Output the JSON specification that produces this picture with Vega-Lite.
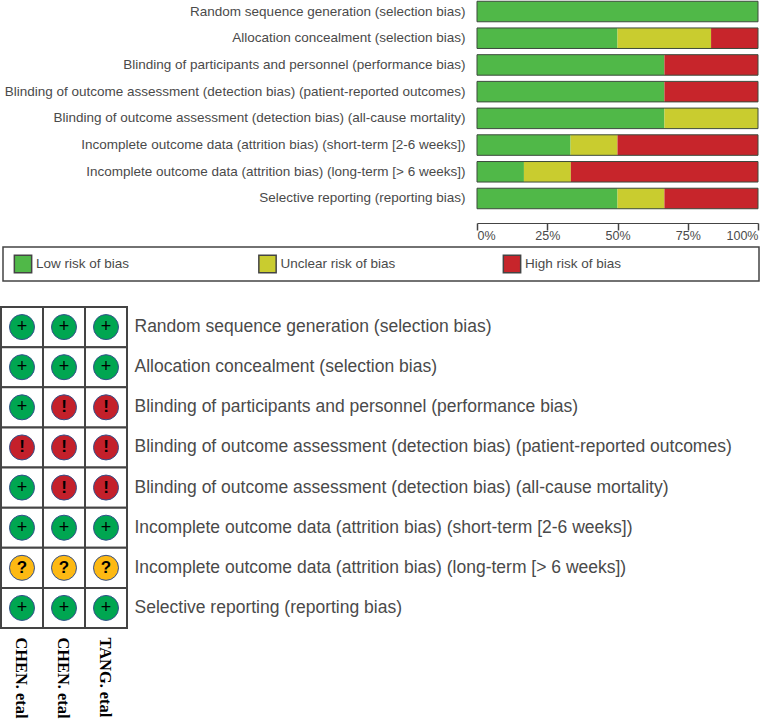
{
"$schema":"https://vega.github.io/schema/vega-lite/v6.json",
"padding":{"left":0,"top":0,"right":0,"bottom":0},
"autosize":{"type":"pad"},
"background":"white",
"spacing":4,
"resolve":{"scale":{"color":"independent"}},
"config":{"view":{"stroke":null}},
"datasets":{
"summary":[
{"domain":"Random sequence generation (selection bias)","risk":"Low risk of bias","rank":1,"pct":100},
{"domain":"Allocation concealment (selection bias)","risk":"Low risk of bias","rank":1,"pct":50},
{"domain":"Allocation concealment (selection bias)","risk":"Unclear risk of bias","rank":2,"pct":33.3},
{"domain":"Allocation concealment (selection bias)","risk":"High risk of bias","rank":3,"pct":16.7},
{"domain":"Blinding of participants and personnel (performance bias)","risk":"Low risk of bias","rank":1,"pct":66.7},
{"domain":"Blinding of participants and personnel (performance bias)","risk":"High risk of bias","rank":3,"pct":33.3},
{"domain":"Blinding of outcome assessment (detection bias) (patient-reported outcomes)","risk":"Low risk of bias","rank":1,"pct":66.7},
{"domain":"Blinding of outcome assessment (detection bias) (patient-reported outcomes)","risk":"High risk of bias","rank":3,"pct":33.3},
{"domain":"Blinding of outcome assessment (detection bias) (all-cause mortality)","risk":"Low risk of bias","rank":1,"pct":66.7},
{"domain":"Blinding of outcome assessment (detection bias) (all-cause mortality)","risk":"Unclear risk of bias","rank":2,"pct":33.3},
{"domain":"Incomplete outcome data (attrition bias) (short-term [2-6 weeks])","risk":"Low risk of bias","rank":1,"pct":33.3},
{"domain":"Incomplete outcome data (attrition bias) (short-term [2-6 weeks])","risk":"Unclear risk of bias","rank":2,"pct":16.7},
{"domain":"Incomplete outcome data (attrition bias) (short-term [2-6 weeks])","risk":"High risk of bias","rank":3,"pct":50},
{"domain":"Incomplete outcome data (attrition bias) (long-term [> 6 weeks])","risk":"Low risk of bias","rank":1,"pct":16.7},
{"domain":"Incomplete outcome data (attrition bias) (long-term [> 6 weeks])","risk":"Unclear risk of bias","rank":2,"pct":16.7},
{"domain":"Incomplete outcome data (attrition bias) (long-term [> 6 weeks])","risk":"High risk of bias","rank":3,"pct":66.6},
{"domain":"Selective reporting (reporting bias)","risk":"Low risk of bias","rank":1,"pct":50},
{"domain":"Selective reporting (reporting bias)","risk":"Unclear risk of bias","rank":2,"pct":16.7},
{"domain":"Selective reporting (reporting bias)","risk":"High risk of bias","rank":3,"pct":33.3}
],
"legend":[
{"risk":"Low risk of bias","box":"legend"},
{"risk":"Unclear risk of bias","box":"legend"},
{"risk":"High risk of bias","box":"legend"}
],
"cells":[
{"domain":"Random sequence generation (selection bias)","study":"CHEN. etal","judgement":"+"},
{"domain":"Random sequence generation (selection bias)","study":"CHEN. etal ","judgement":"+"},
{"domain":"Random sequence generation (selection bias)","study":"TANG. etal","judgement":"+"},
{"domain":"Allocation concealment (selection bias)","study":"CHEN. etal","judgement":"+"},
{"domain":"Allocation concealment (selection bias)","study":"CHEN. etal ","judgement":"+"},
{"domain":"Allocation concealment (selection bias)","study":"TANG. etal","judgement":"+"},
{"domain":"Blinding of participants and personnel (performance bias)","study":"CHEN. etal","judgement":"+"},
{"domain":"Blinding of participants and personnel (performance bias)","study":"CHEN. etal ","judgement":"!"},
{"domain":"Blinding of participants and personnel (performance bias)","study":"TANG. etal","judgement":"!"},
{"domain":"Blinding of outcome assessment (detection bias) (patient-reported outcomes)","study":"CHEN. etal","judgement":"!"},
{"domain":"Blinding of outcome assessment (detection bias) (patient-reported outcomes)","study":"CHEN. etal ","judgement":"!"},
{"domain":"Blinding of outcome assessment (detection bias) (patient-reported outcomes)","study":"TANG. etal","judgement":"!"},
{"domain":"Blinding of outcome assessment (detection bias) (all-cause mortality)","study":"CHEN. etal","judgement":"+"},
{"domain":"Blinding of outcome assessment (detection bias) (all-cause mortality)","study":"CHEN. etal ","judgement":"!"},
{"domain":"Blinding of outcome assessment (detection bias) (all-cause mortality)","study":"TANG. etal","judgement":"!"},
{"domain":"Incomplete outcome data (attrition bias) (short-term [2-6 weeks])","study":"CHEN. etal","judgement":"+"},
{"domain":"Incomplete outcome data (attrition bias) (short-term [2-6 weeks])","study":"CHEN. etal ","judgement":"+"},
{"domain":"Incomplete outcome data (attrition bias) (short-term [2-6 weeks])","study":"TANG. etal","judgement":"+"},
{"domain":"Incomplete outcome data (attrition bias) (long-term [> 6 weeks])","study":"CHEN. etal","judgement":"?"},
{"domain":"Incomplete outcome data (attrition bias) (long-term [> 6 weeks])","study":"CHEN. etal ","judgement":"?"},
{"domain":"Incomplete outcome data (attrition bias) (long-term [> 6 weeks])","study":"TANG. etal","judgement":"?"},
{"domain":"Selective reporting (reporting bias)","study":"CHEN. etal","judgement":"+"},
{"domain":"Selective reporting (reporting bias)","study":"CHEN. etal ","judgement":"+"},
{"domain":"Selective reporting (reporting bias)","study":"TANG. etal","judgement":"+"}
]
},
"vconcat":[
{
"width":755,"height":210,
"data":{"name":"summary"},
"encoding":{
"y":{"field":"domain","type":"nominal","sort":null,"title":null,
 "scale":{"paddingInner":0.232,"paddingOuter":0.047},
 "axis":{"ticks":false,"domain":false,"labelFont":"Liberation Sans","labelFontSize":13.5,"labelColor":"#4a4a4a","labelLimit":480,"labelPadding":-462}}
},
"layer":[
{"mark":{"type":"bar"},
 "encoding":{
 "x":{"field":"pct","type":"quantitative","stack":"zero","title":null,"scale":{"domain":[0,100],"nice":false,"range":[474,755]},
  "axis":{"values":[0,25,50,75,100],"labelExpr":"datum.value + '%'","offset":13,"grid":false,"domainColor":"#444","tickColor":"#444","tickSize":7,"tickWidth":1.5,"labelFlush":true,"labelFont":"Liberation Sans","labelFontSize":12.5,"labelColor":"#4a4a4a","labelPadding":-1}},
 "order":{"field":"rank","type":"ordinal"},
 "color":{"field":"risk","type":"nominal","legend":null,"scale":{"domain":["Low risk of bias","Unclear risk of bias","High risk of bias"],"range":["#50b848","#c9cc2f","#c7252b"]}}
 }
},
{"mark":{"type":"bar","fill":null,"stroke":"#3c4a3c","strokeWidth":1},
 "encoding":{"x":{"aggregate":"sum","field":"pct","type":"quantitative","stack":null}}
}
]
},
{
"width":756,"height":34,
"data":{"name":"legend"},
"view":{"stroke":"#444","strokeWidth":1.5,"fill":"white"},
"encoding":{
"x":{"field":"risk","type":"nominal","sort":null,"axis":null,"scale":{"type":"point","padding":0,"range":[20,509]}},
"y":{"field":"box","type":"nominal","axis":null}
},
"layer":[
{"mark":{"type":"square","size":300,"filled":true,"opacity":1,"stroke":"#444","strokeWidth":1.5},
 "encoding":{"color":{"field":"risk","type":"nominal","legend":null,"scale":{"domain":["Low risk of bias","Unclear risk of bias","High risk of bias"],"range":["#50b848","#c9cc2f","#c7252b"]}}}},
{"mark":{"type":"text","align":"left","dx":13,"font":"Liberation Sans","fontSize":13.5,"color":"#4a4a4a"},
 "encoding":{"text":{"field":"risk"}}}
]
},
{
"width":124,"height":321,
"data":{"name":"cells"},
"title":{"text":" ","fontSize":14,"offset":6},
"encoding":{
"x":{"field":"study","type":"nominal","sort":null,"title":null,"scale":{"paddingInner":0,"paddingOuter":0,"range":[-2,124]},
 "axis":{"orient":"bottom","ticks":false,"domain":false,"labelAngle":90,"labelAlign":"left","labelBaseline":"middle","labelFont":"Liberation Serif","labelFontWeight":"bold","labelFontSize":16.4,"labelColor":"black","labelPadding":9,"labelLimit":100,"labelOffset":-1}},
"y":{"field":"domain","type":"nominal","sort":null,"title":null,"scale":{"paddingInner":0,"paddingOuter":0},
 "axis":{"orient":"right","ticks":false,"domain":false,"labelFont":"Liberation Sans","labelFontSize":17.5,"labelColor":"#4a4a4a","labelPadding":7,"labelLimit":640}}
},
"layer":[
{"mark":{"type":"rect","fill":"white","stroke":"#444","strokeWidth":2}},
{"mark":{"type":"point","shape":"circle","filled":true,"size":625,"opacity":1,"stroke":"#34508c","strokeWidth":1},
 "encoding":{"color":{"field":"judgement","type":"nominal","legend":null,"scale":{"domain":["+","!","?"],"range":["#00a651","#c4202b","#fdb913"]}}}},
{"transform":[{"filter":"datum.judgement == '+'"}],"mark":{"type":"text","font":"Liberation Sans","fontSize":18,"color":"black"},
 "encoding":{"text":{"field":"judgement"}}},
{"transform":[{"filter":"datum.judgement != '+'"}],"mark":{"type":"text","font":"Liberation Sans","fontSize":17,"fontWeight":"bold","color":"black"},
 "encoding":{"text":{"field":"judgement"}}}
]
}
]
}
